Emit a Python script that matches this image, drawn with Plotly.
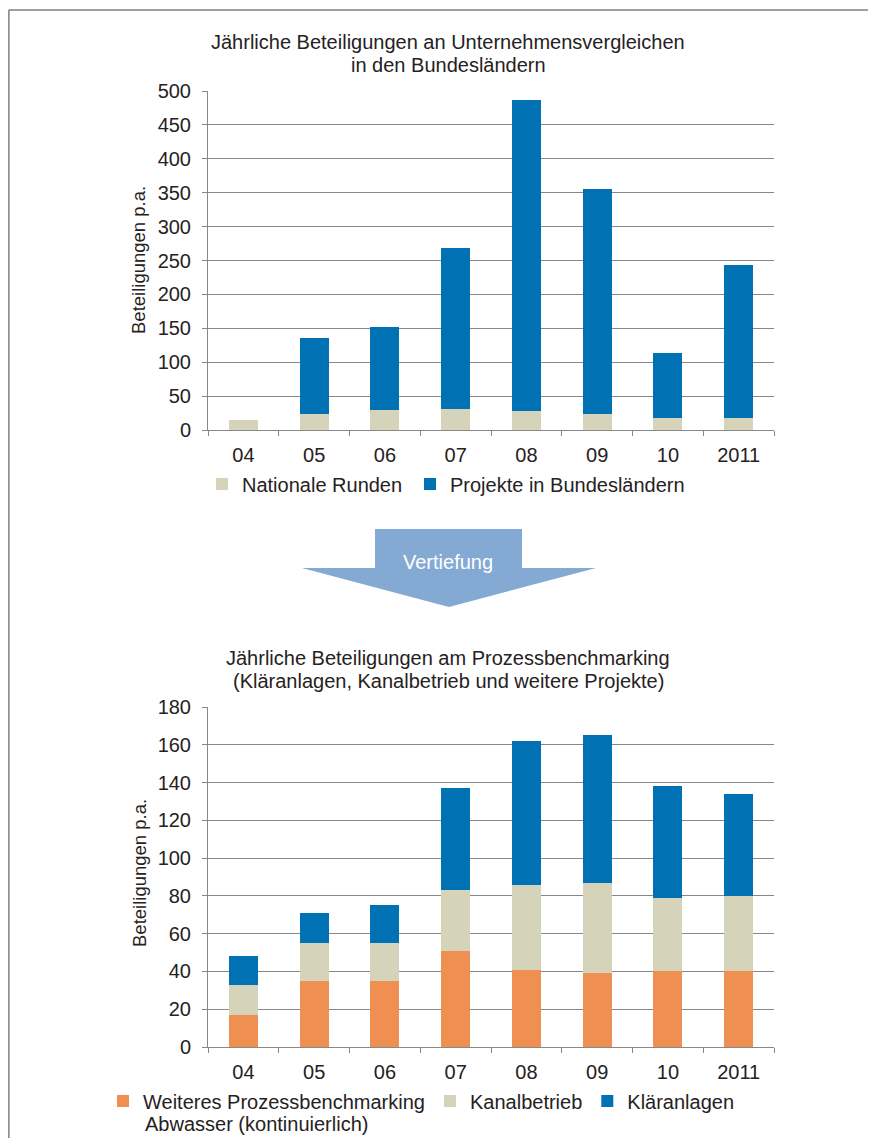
import plotly.graph_objects as go

# the page keeps the default 8px body margin, so the figure is 16px smaller
PAGE_W, PAGE_H = 876, 1146
OFF = 8
W, H = PAGE_W - 2 * OFF, PAGE_H - 2 * OFF

# ---- data --------------------------------------------------------------------
years = ["04", "05", "06", "07", "08", "09", "10", "2011"]

# top chart: Unternehmensvergleiche
nationale_runden = [15, 23, 30, 31, 28, 24, 17, 18]
projekte_laender = [0, 112, 122, 237, 458, 331, 96, 226]

# bottom chart: Prozessbenchmarking
weiteres_pb = [17, 35, 35, 51, 41, 39, 40, 40]
kanalbetrieb = [16, 20, 20, 32, 45, 48, 39, 40]
klaeranlagen = [15, 16, 20, 54, 76, 78, 59, 54]

BLUE = "#0071B2"
BEIGE = "#D5D4BA"
ORANGE = "#EF8F51"
ARROW = "#84A9D3"
TXT = "#262122"
GRID = "#888888"
FONT = "Liberation Sans, Arial, sans-serif"


def px(x):
    """page pixel -> paper fraction (x)"""
    return (x - OFF) / W


def py(y):
    """page pixel -> paper fraction (y)"""
    return 1 - (y - OFF) / H


fig = go.Figure()

# ---- top chart ---------------------------------------------------------------
fig.add_trace(go.Bar(x=years, y=nationale_runden, name="Nationale Runden",
                     marker=dict(color=BEIGE, line=dict(width=0)),
                     xaxis="x", yaxis="y", legend="legend", legendwidth=163))
fig.add_trace(go.Bar(x=years, y=projekte_laender, name="Projekte in Bundesländern",
                     marker=dict(color=BLUE, line=dict(width=0)),
                     xaxis="x", yaxis="y", legend="legend"))

# ---- bottom chart ------------------------------------------------------------
fig.add_trace(go.Bar(x=years, y=weiteres_pb, name="Weiteres Prozessbenchmarking",
                     marker=dict(color=ORANGE, line=dict(width=0)),
                     xaxis="x2", yaxis="y2", legend="legend2"))
fig.add_trace(go.Bar(x=years, y=kanalbetrieb, name="Kanalbetrieb",
                     marker=dict(color=BEIGE, line=dict(width=0)),
                     xaxis="x2", yaxis="y2", legend="legend2"))
fig.add_trace(go.Bar(x=years, y=klaeranlagen, name="Kläranlagen",
                     marker=dict(color=BLUE, line=dict(width=0)),
                     xaxis="x2", yaxis="y2", legend="legend2"))

xcommon = dict(
    type="category", showgrid=False, showline=True, linecolor=GRID, linewidth=1,
    ticks="outside", tickson="boundaries", ticklen=5, tickcolor=GRID,
    tickfont=dict(size=20, color=TXT), ticklabelstandoff=7,
    domain=[px(208), px(774)],
)
ycommon = dict(
    showgrid=True, gridcolor=GRID, gridwidth=1, showline=True, linecolor=GRID,
    linewidth=1, ticks="outside", ticklen=5, tickcolor=GRID,
    tickfont=dict(size=20, color=TXT), zeroline=False, ticklabelstandoff=7,
)

fig.update_layout(
    xaxis=dict(xcommon, anchor="y"),
    yaxis=dict(ycommon, anchor="x", range=[0, 500], dtick=50,
               domain=[py(430), py(91)]),
    xaxis2=dict(xcommon, anchor="y2"),
    yaxis2=dict(ycommon, anchor="x2", range=[0, 180], dtick=20,
                domain=[py(1047), py(707)]),
)

# titles and axis labels
notes = [
    (448, 42, "Jährliche Beteiligungen an Unternehmensvergleichen", 20, 0),
    (448, 65, "in den Bundesländern", 20, 0),
    (448, 658, "Jährliche Beteiligungen am Prozessbenchmarking", 20, 0),
    (448, 681, "(Kläranlagen, Kanalbetrieb und weitere Projekte)", 20, 0),
    (139, 260, "Beteiligungen p.a.", 18.5, -90),
    (139, 873, "Beteiligungen p.a.", 18.5, -90),
]
for x, y, t, size, ang in notes:
    fig.add_annotation(x=px(x), y=py(y), xref="paper", yref="paper", text=t,
                       showarrow=False, textangle=ang, xanchor="center",
                       yanchor="middle", font=dict(size=size, color=TXT))

# second line of the wrapped bottom legend
fig.add_annotation(x=px(143), y=py(1124), xref="paper", yref="paper",
                   text="Abwasser (kontinuierlich)", showarrow=False,
                   xanchor="left", yanchor="middle",
                   font=dict(size=20, color=TXT))

# arrow "Vertiefung"
pts = [(375, 529), (522, 529), (522, 568), (596, 568), (449, 607),
       (302, 568), (375, 568)]
path = "M " + " L ".join(f"{px(a):.5f},{py(b):.5f}" for a, b in pts) + " Z"
fig.add_shape(type="path", path=path, xref="paper", yref="paper",
              fillcolor=ARROW, line=dict(width=0), layer="below")
fig.add_annotation(x=px(448), y=py(562), xref="paper", yref="paper",
                   text="Vertiefung", showarrow=False, xanchor="center",
                   yanchor="middle", font=dict(size=20, color="white"))

# outer frame: only the left and top edges are inside the picture
frame = dict(color="#7F7F7F", width=1.5)
fig.add_shape(type="line", xref="paper", yref="paper",
              x0=0.001, y0=py(10), x1=0.001, y1=0, line=frame)
fig.add_shape(type="line", xref="paper", yref="paper",
              x0=0.001, y0=py(10), x1=1, y1=py(10), line=frame)

fig.update_layout(
    width=W, height=H, barmode="stack", bargap=0.59,
    margin=dict(l=0, r=0, t=0, b=0, autoexpand=False),
    paper_bgcolor="white", plot_bgcolor="white",
    font=dict(family=FONT, color=TXT, size=20),
    legend=dict(orientation="h", x=px(202), y=py(484), xanchor="left",
                yanchor="middle", font=dict(size=20, color=TXT),
                bgcolor="rgba(0,0,0,0)", traceorder="normal"),
    legend2=dict(orientation="h", x=px(103), y=py(1101), xanchor="left",
                 yanchor="middle", font=dict(size=20, color=TXT),
                 bgcolor="rgba(0,0,0,0)", traceorder="normal"),
)

fig.write_html("out.html", config={"displayModeBar": False})
